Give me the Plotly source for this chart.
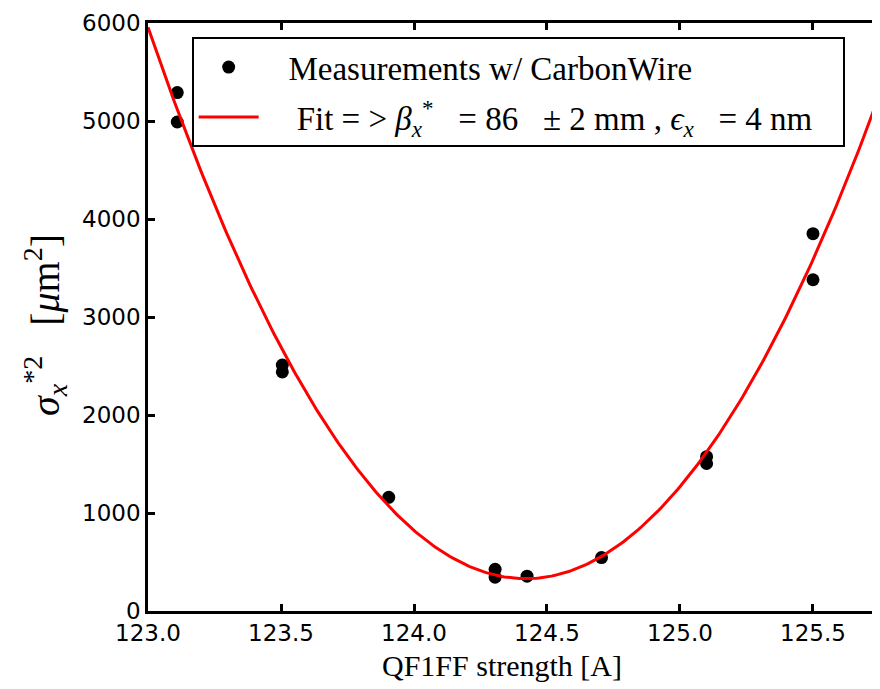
import numpy as np
import plotly.graph_objects as go

# Measured data (QF1FF current [A], sigma_x*^2 [um^2])
current = [123.11, 123.11, 123.505, 123.505, 123.905, 124.305, 124.305, 124.425, 124.705, 125.1, 125.1, 125.5, 125.5]
sigma2 = [5290, 4990, 2510, 2440, 1160, 425, 345, 355, 545, 1575, 1505, 3850, 3380]

# Parabolic fit parameters
fit_a = 2790.0
fit_x0 = 124.42
fit_c = 330.0

x_range = [123.0, 125.782]
y_range = [0, 6000]
x_ticks = [123.0, 123.5, 124.0, 124.5, 125.0, 125.5]
y_ticks = [0, 1000, 2000, 3000, 4000, 5000, 6000]

xf = np.linspace(x_range[0], x_range[1], 300)
yf = fit_a * (xf - fit_x0) ** 2 + fit_c

serif = "Liberation Serif"
sans = "DejaVu Sans"
nb = "\u00a0"

fig = go.Figure()
fig.add_trace(go.Scatter(
    x=current, y=sigma2, mode="markers",
    marker=dict(color="black", size=13, line=dict(width=0)),
    name=nb * 3 + "Measurements w/ CarbonWire",
    legendgroup="a",
))
fig.add_trace(go.Scatter(
    x=xf, y=yf, mode="lines",
    line=dict(color="red", width=3),
    name=nb * 4 + "Fit = > <i>β</i><sub><i>x</i></sub><sup>*</sup>" + nb * 2 + " = 86 " + nb * 2
         + "± 2 mm , <i>ϵ</i><sub><i>x</i></sub>" + nb * 2 + " = 4 nm" + nb * 3,
    legendgroup="b",
))

axis_common = dict(
    showline=True, linecolor="black", linewidth=2.5, mirror="ticks",
    ticks="inside", ticklen=7, tickwidth=2.5, tickcolor="black",
    showgrid=False, zeroline=False, automargin=False,
    tickfont=dict(family=sans, size=23, color="black"),
)

fig.update_layout(
    width=880, height=689,
    margin=dict(l=140, r=0, t=15, b=86, autoexpand=False),
    paper_bgcolor="white", plot_bgcolor="white",
    showlegend=True,
    legend=dict(
        x=0.059, y=0.976, xanchor="left", yanchor="top",
        bgcolor="white", bordercolor="black", borderwidth=2,
        font=dict(family=serif, size=33, color="black"),
        tracegroupgap=4, itemwidth=60,
    ),
    xaxis=dict(
        range=x_range, tickvals=x_ticks, ticktext=[f"{v:.1f}" for v in x_ticks],
        ticklabelstandoff=0,
        **axis_common,
    ),
    yaxis=dict(
        range=y_range, tickvals=y_ticks, ticktext=[str(v) for v in y_ticks],
        **axis_common,
    ),
    annotations=[
        dict(text="QF1FF strength [A]", xref="paper", yref="paper",
             x=0.478, y=-0.093, xanchor="center", yanchor="middle", showarrow=False,
             font=dict(family=serif, size=30, color="black")),
        dict(text="<i>σ</i><sub><i>x</i></sub><sup>*2</sup>" + nb * 2 + " [<i>μ</i>m<sup>2</sup>]",
             xref="paper", yref="paper", textangle=-90,
             x=-0.140, y=0.487, xanchor="center", yanchor="middle", showarrow=False,
             font=dict(family=serif, size=40, color="black")),
    ],
)

fig.write_html("out.html")
